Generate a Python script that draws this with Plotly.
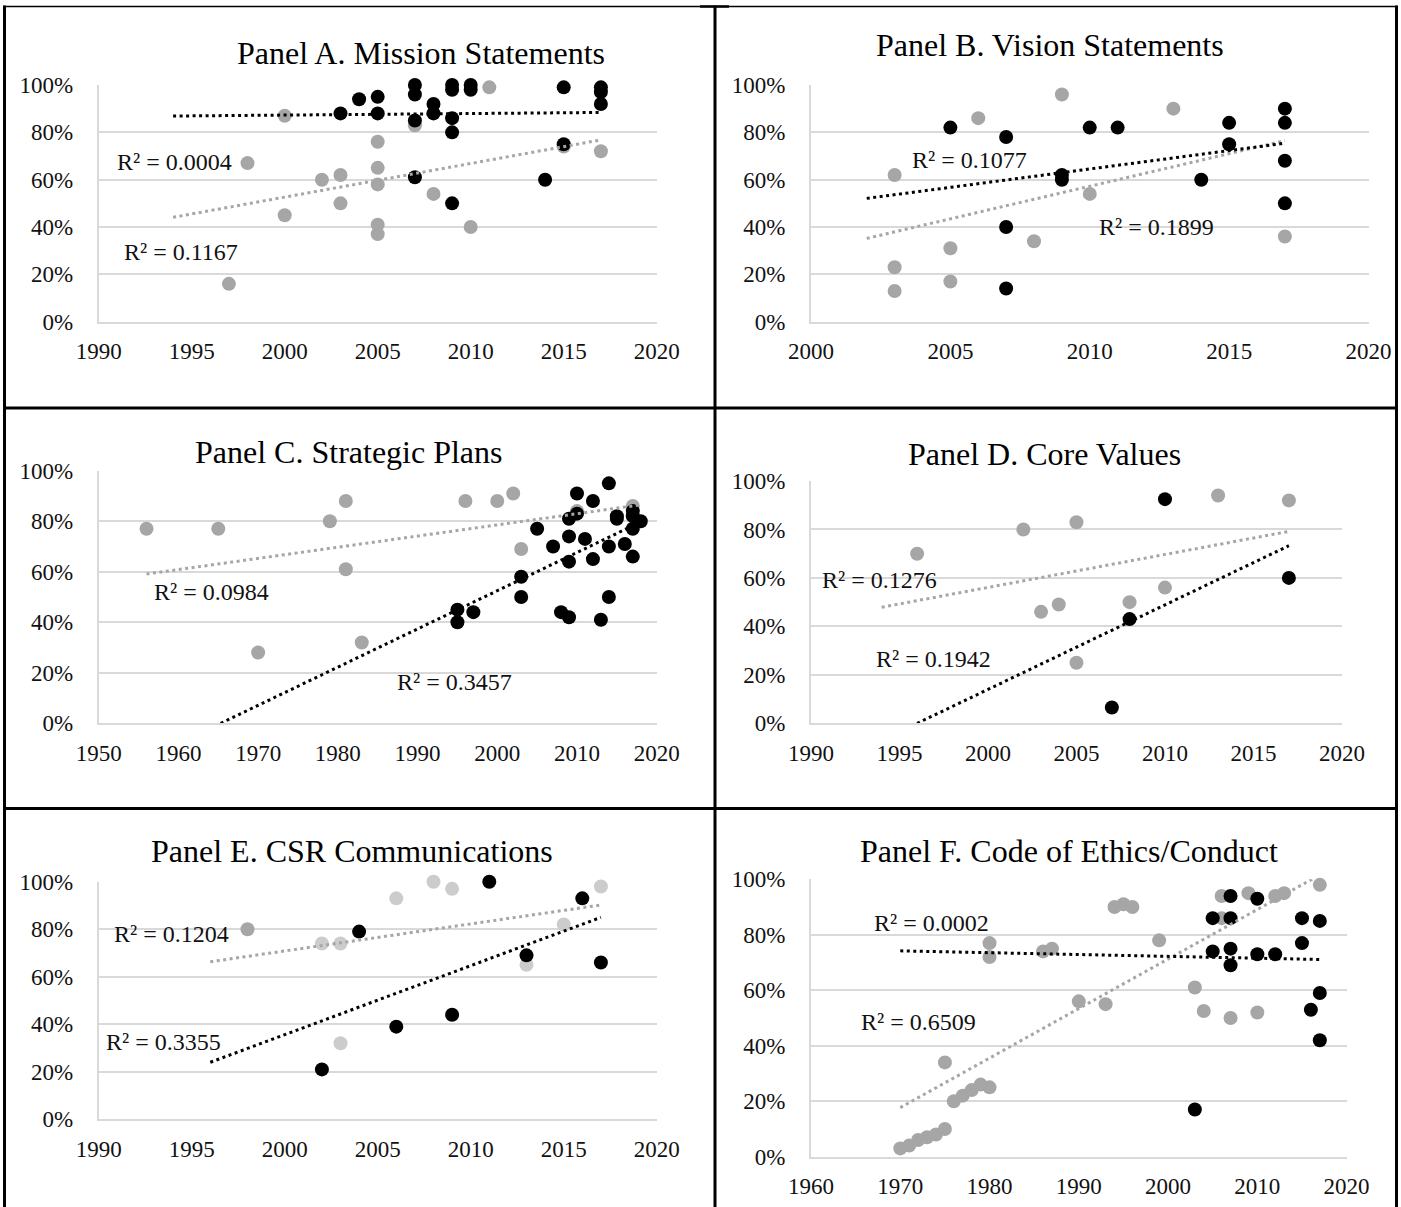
import plotly.graph_objects as go

# ---------------- DATA ----------------
# Panel A. Mission Statements
A_black_x = [2003, 2004, 2005, 2005, 2007, 2007, 2007, 2007, 2008, 2008, 2009, 2009, 2009, 2009, 2009, 2010, 2010, 2014, 2015, 2015, 2017, 2017, 2017]
A_black_y = [88, 94, 95, 88, 100, 96, 85, 61, 92, 88, 100, 98, 86, 80, 50, 100, 98, 60, 99, 75, 99, 97, 92]
A_grey_x = [1997, 1998, 2000, 2000, 2002, 2003, 2003, 2005, 2005, 2005, 2005, 2005, 2007, 2008, 2010, 2011, 2015, 2017]
A_grey_y = [16, 67, 87, 45, 60, 62, 50, 76, 65, 58, 41, 37, 83, 54, 40, 99, 74, 72]
A_trend_black_x = [1994, 2017]
A_trend_black_y = [86.9, 88.4]
A_trend_grey_x = [1994, 2017]
A_trend_grey_y = [44.1, 76.8]
A_r2_black = "R² = 0.0004"
A_r2_grey = "R² = 0.1167"

# Panel B. Vision Statements
B_black_x = [2005, 2007, 2007, 2007, 2009, 2009, 2010, 2011, 2014, 2015, 2015, 2017, 2017, 2017, 2017]
B_black_y = [82, 78, 40, 14, 62, 60, 82, 82, 60, 84, 75, 90, 84, 68, 50]
B_grey_x = [2003, 2003, 2003, 2005, 2005, 2006, 2008, 2009, 2010, 2013, 2017]
B_grey_y = [62, 23, 13, 31, 17, 86, 34, 96, 54, 90, 36]
B_trend_black_x = [2002, 2017]
B_trend_black_y = [52.1, 75.4]
B_trend_grey_x = [2002, 2017]
B_trend_grey_y = [35.2, 76.5]
B_r2_black = "R² = 0.1077"
B_r2_grey = "R² = 0.1899"

# Panel C. Strategic Plans
C_black_x = [1995, 1995, 1997, 2003, 2003, 2005, 2007, 2008, 2009, 2009, 2009, 2009, 2010, 2010, 2011, 2012, 2012, 2013, 2014, 2014, 2014, 2015, 2015, 2016, 2017, 2017, 2017, 2017, 2018]
C_black_y = [45, 40, 44, 58, 50, 77, 70, 44, 81, 74, 64, 42, 91, 83, 73, 88, 65, 41, 95, 70, 50, 82, 81, 71, 84, 82, 77, 66, 80]
C_grey_x = [1956, 1965, 1970, 1979, 1981, 1981, 1983, 1996, 2000, 2002, 2003, 2010, 2017]
C_grey_y = [77, 77, 28, 80, 88, 61, 32, 88, 88, 91, 69, 84, 86]
C_trend_black_x = [1965.3, 2017.2]
C_trend_black_y = [0, 78.5]
C_trend_grey_x = [1956, 2018]
C_trend_grey_y = [59.1, 86.5]
C_r2_black = "R² = 0.3457"
C_r2_grey = "R² = 0.0984"

# Panel D. Core Values
D_black_x = [2007, 2008, 2010, 2017]
D_black_y = [6.5, 43, 92.5, 60]
D_grey_x = [1996, 2002, 2003, 2004, 2005, 2005, 2008, 2010, 2013, 2017]
D_grey_y = [70, 80, 46, 49, 83, 25, 50, 56, 94, 92]
D_trend_black_x = [1996, 2017]
D_trend_black_y = [0, 73.3]
D_trend_grey_x = [1994, 2017]
D_trend_grey_y = [47.9, 79.2]
D_r2_black = "R² = 0.1942"
D_r2_grey = "R² = 0.1276"

# Panel E. CSR Communications
E_black_x = [2002, 2004, 2006, 2009, 2011, 2013, 2016, 2017]
E_black_y = [21, 79, 39, 44, 100, 69, 93, 66]
E_grey_x = [2002, 2003, 2003, 2006, 2008, 2009, 2013, 2015, 2017]
E_grey_y = [74, 74, 32, 93, 100, 97, 65, 82, 98]
E_grey2_x = [1998]
E_grey2_y = [80]
E_trend_black_x = [1996, 2017]
E_trend_black_y = [24, 85]
E_trend_grey_x = [1996, 2017]
E_trend_grey_y = [66.3, 90.2]
E_r2_black = "R² = 0.3355"
E_r2_grey = "R² = 0.1204"

# Panel F. Code of Ethics/Conduct
F_black_x = [2003, 2005, 2005, 2007, 2007, 2007, 2007, 2010, 2010, 2012, 2015, 2015, 2016, 2017, 2017, 2017]
F_black_y = [17, 86, 74, 94, 86, 75, 69, 93, 73, 73, 86, 77, 53, 85, 59, 42]
F_grey_x = [1970, 1971, 1972, 1973, 1974, 1975, 1975, 1976, 1977, 1978, 1979, 1980, 1980, 1980, 1986, 1987, 1990, 1993, 1994, 1995, 1996, 1999, 2003, 2004, 2006, 2006, 2007, 2009, 2010, 2012, 2013, 2017]
F_grey_y = [3, 4, 6, 7, 8, 10, 34, 20, 22, 24, 26, 25, 77, 72, 74, 75, 56, 55, 90, 91, 90, 78, 61, 52.5, 94, 86, 50, 95, 52, 94, 95, 98]
F_trend_black_x = [1970, 2017]
F_trend_black_y = [74.2, 71.1]
F_trend_grey_x = [1970, 2017]
F_trend_grey_y = [17.7, 101.6]
F_r2_black = "R² = 0.0002"
F_r2_grey = "R² = 0.6509"

titles = ["Panel A. Mission Statements", "Panel B. Vision Statements", "Panel C. Strategic Plans",
          "Panel D. Core Values", "Panel E. CSR Communications", "Panel F. Code of Ethics/Conduct"]
x_ranges = [[1990, 2020], [2000, 2020], [1950, 2020], [1990, 2020], [1990, 2020], [1960, 2020]]
x_dticks = [5, 5, 10, 5, 5, 10]

# ---------------- STYLE / LAYOUT ----------------
W, H = 1401, 1207
FONT = "Liberation Serif, Times New Roman, serif"
BLACK = "#000000"
GREY = "#a6a6a6"
LIGHT = "#cccccc"
GRID = "#d9d9d9"
TXT = "#111111"

# plot-area boxes in pixels: (left, right, top, bottom)
boxes = [
    (98.7, 656.7, 85, 321.7),
    (811, 1368.5, 85, 321.7),
    (98.7, 656.7, 470.7, 723.3),
    (810.9, 1342, 481, 723.3),
    (98.7, 656.7, 881.7, 1119.3),
    (811, 1346.6, 879.3, 1156.7),
]
title_pos = [(421, 53), (1050, 45), (349, 452), (1044, 454), (352, 851), (1069, 851)]
# R² label positions in data units (year, percent)
r2_black_pos = [(1994.1, 67.6), (2005.7, 68.3), (1994.6, 16.5), (1996.9, 26.4), (1993.5, 32.4), (1973.5, 84.4)]
r2_grey_pos = [(1994.4, 29.6), (2012.4, 40.1), (1964.2, 52.1), (1993.9, 59.1), (1993.9, 77.8), (1972.0, 48.7)]

panels = [
    dict(bx=A_black_x, by=A_black_y, gx=A_grey_x, gy=A_grey_y, tbx=A_trend_black_x, tby=A_trend_black_y,
         tgx=A_trend_grey_x, tgy=A_trend_grey_y, r2b=A_r2_black, r2g=A_r2_grey, gcol=GREY),
    dict(bx=B_black_x, by=B_black_y, gx=B_grey_x, gy=B_grey_y, tbx=B_trend_black_x, tby=B_trend_black_y,
         tgx=B_trend_grey_x, tgy=B_trend_grey_y, r2b=B_r2_black, r2g=B_r2_grey, gcol=GREY),
    dict(bx=C_black_x, by=C_black_y, gx=C_grey_x, gy=C_grey_y, tbx=C_trend_black_x, tby=C_trend_black_y,
         tgx=C_trend_grey_x, tgy=C_trend_grey_y, r2b=C_r2_black, r2g=C_r2_grey, gcol=GREY),
    dict(bx=D_black_x, by=D_black_y, gx=D_grey_x, gy=D_grey_y, tbx=D_trend_black_x, tby=D_trend_black_y,
         tgx=D_trend_grey_x, tgy=D_trend_grey_y, r2b=D_r2_black, r2g=D_r2_grey, gcol=GREY),
    dict(bx=E_black_x, by=E_black_y, gx=E_grey_x, gy=E_grey_y, tbx=E_trend_black_x, tby=E_trend_black_y,
         tgx=E_trend_grey_x, tgy=E_trend_grey_y, r2b=E_r2_black, r2g=E_r2_grey, gcol=LIGHT,
         g2x=E_grey2_x, g2y=E_grey2_y),
    dict(bx=F_black_x, by=F_black_y, gx=F_grey_x, gy=F_grey_y, tbx=F_trend_black_x, tby=F_trend_black_y,
         tgx=F_trend_grey_x, tgy=F_trend_grey_y, r2b=F_r2_black, r2g=F_r2_grey, gcol=GREY),
]

fig = go.Figure()
layout = dict(width=W, height=H, autosize=False, margin=dict(l=0, r=0, t=0, b=0, pad=0, autoexpand=False),
              paper_bgcolor="white", plot_bgcolor="white", showlegend=False,
              font=dict(family=FONT, color=TXT))
annotations = []
MS = 14
DASH = "3px,3.5px"


def pct(v):
    return [a / 100.0 for a in v]


for i, p in enumerate(panels):
    n = "" if i == 0 else str(i + 1)
    xa, ya = "x" + n, "y" + n
    l, r, t, b = boxes[i]
    layout["xaxis" + n] = dict(domain=[l / W, r / W], range=x_ranges[i], dtick=x_dticks[i], anchor=ya,
                               showgrid=False, zeroline=False, showline=True, linecolor=GRID, linewidth=2,
                               ticks="", tickfont=dict(family=FONT, size=23, color=TXT), ticklabelstandoff=8,
                               automargin=False, fixedrange=True)
    layout["yaxis" + n] = dict(domain=[1 - b / H, 1 - t / H], range=[0, 1], dtick=0.2, tickformat=".0%",
                               anchor=xa, showgrid=True, gridcolor=GRID, gridwidth=2, zeroline=False,
                               showline=True, linecolor=GRID, linewidth=2, ticks="",
                               tickfont=dict(family=FONT, size=23, color=TXT), ticklabelstandoff=19,
                               automargin=False, fixedrange=True)
    fig.add_trace(go.Scatter(x=p["gx"], y=pct(p["gy"]), mode="markers", xaxis=xa, yaxis=ya, cliponaxis=False,
                             marker=dict(size=MS, color=p["gcol"], line=dict(width=0))))
    if "g2x" in p:
        fig.add_trace(go.Scatter(x=p["g2x"], y=pct(p["g2y"]), mode="markers", xaxis=xa, yaxis=ya,
                                 cliponaxis=False, marker=dict(size=MS, color=GREY, line=dict(width=0))))
    fig.add_trace(go.Scatter(x=p["bx"], y=pct(p["by"]), mode="markers", xaxis=xa, yaxis=ya, cliponaxis=False,
                             marker=dict(size=MS, color=BLACK, line=dict(width=0))))
    fig.add_trace(go.Scatter(x=p["tgx"], y=pct(p["tgy"]), mode="lines", xaxis=xa, yaxis=ya,
                             line=dict(color=GREY, width=3, dash=DASH)))
    fig.add_trace(go.Scatter(x=p["tbx"], y=pct(p["tby"]), mode="lines", xaxis=xa, yaxis=ya,
                             line=dict(color=BLACK, width=3, dash=DASH)))
    # title
    tx, ty = title_pos[i]
    annotations.append(dict(x=tx / W, y=1 - ty / H, xref="paper", yref="paper", text=titles[i],
                            showarrow=False, xanchor="center", yanchor="middle",
                            font=dict(family=FONT, size=32, color="#000000")))
    # R² labels
    for txt, (px, py) in ((p["r2b"], r2_black_pos[i]), (p["r2g"], r2_grey_pos[i])):
        annotations.append(dict(x=px, y=py / 100.0, xref=xa, yref=ya, text=txt, showarrow=False,
                                xanchor="center", yanchor="middle",
                                font=dict(family=FONT, size=24, color=TXT)))

layout["annotations"] = annotations


# table borders
def line(x0, y0, x1, y1, w):
    return dict(type="line", xref="paper", yref="paper", x0=x0 / W, y0=1 - y0 / H, x1=x1 / W, y1=1 - y1 / H,
                line=dict(color="black", width=w))


layout["shapes"] = [
    line(3, 6.5, 1398, 6.5, 1.5),
    line(700, 6.5, 729, 6.5, 2.5),
    line(4.5, 5.5, 4.5, 1207, 3),
    line(1396.5, 5.5, 1396.5, 1207, 3),
    line(715, 5.5, 715, 1207, 3),
    line(3, 408, 1398, 408, 3),
    line(3, 808.5, 1398, 808.5, 3),
]

fig.update_layout(**layout)
fig.write_html(
    "out.html",
    config={"displayModeBar": False},
    post_script="document.body.style.margin='0';document.body.style.padding='0';"
                "document.body.style.overflow='hidden';document.documentElement.style.overflow='hidden';",
)
